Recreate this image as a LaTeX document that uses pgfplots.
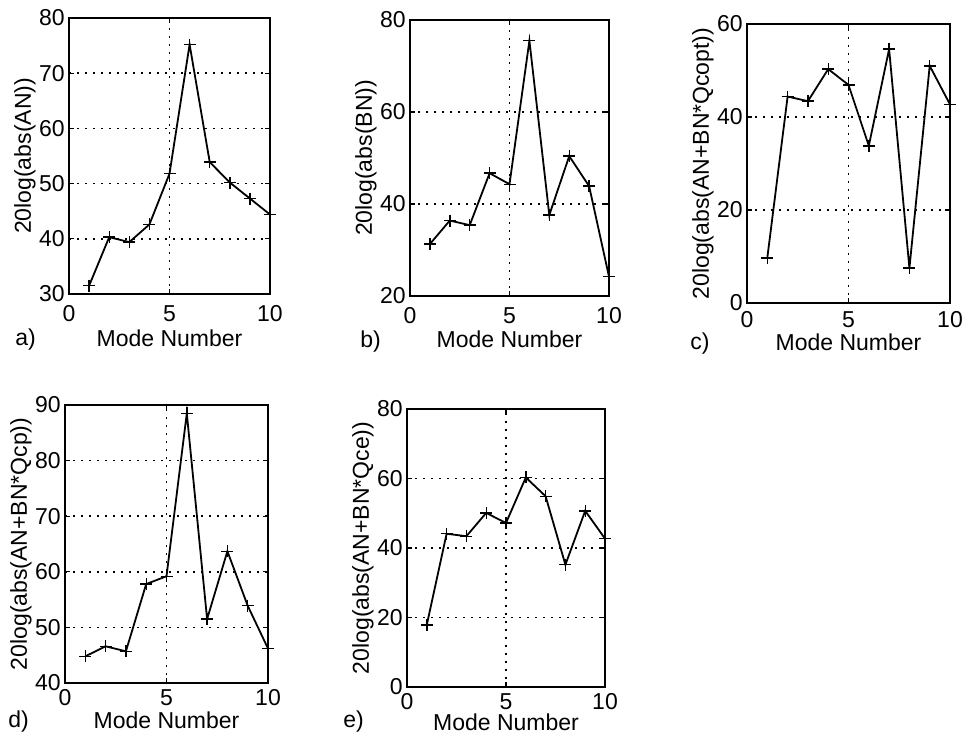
\documentclass[border=0pt]{standalone}
\usepackage{pgfplots}
\pgfplotsset{compat=1.18}
\usepackage{fontspec}
\setmainfont{Liberation Sans}
\newcommand{\ff}{\fontsize{11.5pt}{13pt}\selectfont}
\begin{document}
\begin{tikzpicture}[font=\ff]
\pgfplotsset{
  panel/.style={
    scale only axis,
    xmin=0, xmax=10, xtick={0,5,10},
    /pgf/number format/assume math mode=true,
    tick label style={font=\ff},
    label style={font=\ff},
    tick align=inside, major tick length=2.5pt,
    axis line style={line width=0.8pt},
    tick style={line width=0.6pt, black},
    grid=major,
    major grid style={black, line width=0.8pt, dash pattern=on 0.8pt off 3.2pt},
    yticklabel style={anchor=east, inner sep=0pt, xshift=-2pt},
    ylabel style={at={([xshift=-22pt]axis description cs:0,0.5)}, anchor=center, inner sep=0pt},
    xlabel={Mode Number},
    clip=false,
  },
  ln/.style={black, line width=0.9pt, mark=+, mark size=3pt, mark options={line width=0.7pt, solid}},
}
\path[use as bounding box] (0,0) rectangle (481.5pt,372.5pt);

% a)
\begin{axis}[panel, at={(34.5pt,225.5pt)}, anchor=south west, width=100.5pt, height=138pt,
  ymin=30, ymax=80, ytick={30,40,50,60,70,80},
  ylabel={20log(abs(AN))},
  xticklabel style={anchor=north, inner sep=0pt, yshift=-5.5pt},
  xlabel style={at={([yshift=-17.5pt]axis description cs:0.5,0)}, anchor=north, inner sep=0pt}]
\addplot[ln] coordinates {(1,31.5) (2,40.3) (3,39.4) (4,42.6) (5,51.8) (6,75.2) (7,53.9) (8,50.2) (9,47.3) (10,44.4)};
\end{axis}

% b)
\begin{axis}[panel, at={(205pt,224.5pt)}, anchor=south west, width=99.5pt, height=138pt,
  ymin=20, ymax=80, ytick={20,40,60,80},
  ylabel={20log(abs(BN))},
  xticklabel style={anchor=north, inner sep=0pt, yshift=-5.5pt},
  xlabel style={at={([yshift=-17pt]axis description cs:0.5,0)}, anchor=north, inner sep=0pt}]
\addplot[ln] coordinates {(1,31.3) (2,36.4) (3,35.4) (4,46.7) (5,44.3) (6,75.5) (7,37.6) (8,50.4) (9,43.9) (10,24.2)};
\end{axis}

% c)
\begin{axis}[panel, at={(373.5pt,221pt)}, anchor=south west, width=101.5pt, height=139.5pt,
  ymin=0, ymax=60, ytick={0,20,40,60},
  ylabel={20log(abs(AN+BN*Qcopt))},
  xticklabel style={anchor=north, inner sep=0pt, yshift=-4pt},
  xlabel style={at={([yshift=-15pt]axis description cs:0.5,0)}, anchor=north, inner sep=0pt}]
\addplot[ln] coordinates {(1,9.7) (2,44.4) (3,43.4) (4,50.3) (5,46.9) (6,33.8) (7,54.6) (8,7.5) (9,51.0) (10,42.7)};
\end{axis}

% d)
\begin{axis}[panel, at={(32.5pt,31pt)}, anchor=south west, width=101.5pt, height=139pt,
  ymin=40, ymax=90, ytick={40,50,60,70,80,90},
  ylabel={20log(abs(AN+BN*Qcp))},
  xticklabel style={anchor=north, inner sep=0pt, yshift=-3pt},
  xlabel style={at={([yshift=-14pt]axis description cs:0.5,0)}, anchor=north, inner sep=0pt}]
\addplot[ln] coordinates {(1,44.8) (2,46.6) (3,45.7) (4,57.8) (5,59.2) (6,88.5) (7,51.5) (8,63.7) (9,53.9) (10,46.2)};
\end{axis}

% e)
\begin{axis}[panel, at={(203.5pt,29pt)}, anchor=south west, width=99pt, height=139pt,
  ymin=0, ymax=80, ytick={0,20,40,60,80},
  ylabel={20log(abs(AN+BN*Qce))},
  xticklabel style={anchor=north, inner sep=0pt, yshift=-3pt},
  xlabel style={at={([yshift=-13pt]axis description cs:0.5,0)}, anchor=north, inner sep=0pt}]
\addplot[ln] coordinates {(1,17.9) (2,44.1) (3,43.4) (4,50.1) (5,47.2) (6,60.3) (7,54.9) (8,35.2) (9,50.7) (10,42.7)};
\end{axis}

\node[anchor=base west, inner sep=0pt] at (7.5pt,199.5pt) {a)};
\node[anchor=base west, inner sep=0pt] at (180pt,198.5pt) {b)};
\node[anchor=base west, inner sep=0pt] at (345pt,197.5pt) {c)};
\node[anchor=base west, inner sep=0pt] at (4pt,9pt) {d)};
\node[anchor=base west, inner sep=0pt] at (171.5pt,9pt) {e)};
\end{tikzpicture}
\end{document}
